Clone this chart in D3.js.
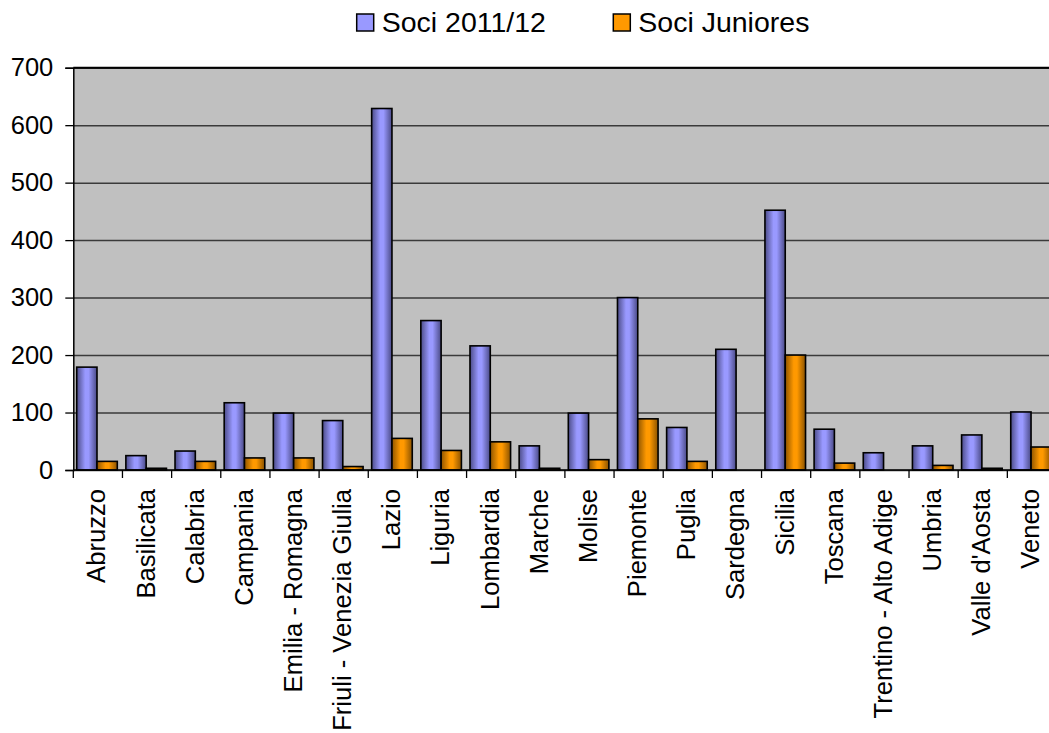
<!DOCTYPE html>
<html>
<head>
<meta charset="utf-8">
<script src="https://cdn.jsdelivr.net/npm/d3@7"></script>
<style>
  body { margin: 0; background: #fff; }
  svg { display: block; font-family: "Liberation Sans", Arial, sans-serif; }
</style>
</head>
<body>
<svg id="chart" width="1049" height="733"></svg>
<script>
// data
var regions = ["Abruzzo", "Basilicata", "Calabria", "Campania", "Emilia - Romagna",
  "Friuli - Venezia Giulia", "Lazio", "Liguria", "Lombardia", "Marche", "Molise",
  "Piemonte", "Puglia", "Sardegna", "Sicilia", "Toscana", "Trentino - Alto Adige",
  "Umbria", "Valle d'Aosta", "Veneto"];
var soci = [179, 25, 33, 117, 99, 86, 629, 260, 216, 42, 99, 300, 74, 210, 452, 71, 30, 42, 61, 101];
var juniores = [15, 3, 15, 21, 21, 6, 55, 34, 49, 3, 18, 89, 15, 0, 200, 12, 0, 8, 3, 40];
var seriesNames = ["Soci 2011/12", "Soci Juniores"];
var yTicks = [0, 100, 200, 300, 400, 500, 600, 700];

var svg = d3.select("#chart");
var margin = { top: 67.7, left: 73.3 };
var bandW = 49.16;
var width = bandW * regions.length;
var height = 470 - margin.top;

var defs = svg.append("defs");
function grad(id, edge1, mid, edge2) {
  var g = defs.append("linearGradient").attr("id", id)
    .attr("x1", "0%").attr("x2", "100%").attr("y1", "0%").attr("y2", "0%");
  g.append("stop").attr("offset", "0%").attr("stop-color", edge1);
  g.append("stop").attr("offset", "42%").attr("stop-color", mid);
  g.append("stop").attr("offset", "58%").attr("stop-color", mid);
  g.append("stop").attr("offset", "100%").attr("stop-color", edge2);
}
grad("gBlue", "#4c4c88", "#9999ff", "#4a4a86");
grad("gOrange", "#8f5500", "#ff9900", "#8a5200");
var fills = ["url(#gBlue)", "url(#gOrange)"];
var legendFills = ["#9999ff", "#ff9900"];

var g = svg.append("g")
  .attr("transform", "translate(" + margin.left + "," + margin.top + ")");

var x = d3.scaleBand().domain(regions).range([0, width]).padding(0);
var x1 = d3.scaleBand().domain(seriesNames).range([3.4, 44]).padding(0);
var y = d3.scaleLinear().domain([0, 700]).range([height, 0]);

// plot background
g.append("rect")
  .attr("width", width).attr("height", height)
  .attr("fill", "#c0c0c0");

// gridlines
g.append("g")
  .attr("class", "grid")
  .call(d3.axisLeft(y).tickValues(yTicks).tickSize(-width).tickFormat(""))
  .call(function(s) {
    s.select(".domain").remove();
    s.selectAll("line").attr("stroke", "#3a3a3a").attr("stroke-width", 1.5);
  });

// top border
g.append("line")
  .attr("x1", 0).attr("x2", width).attr("y1", 0).attr("y2", 0)
  .attr("stroke", "#000").attr("stroke-width", 2);

// bars
var groups = g.selectAll(".grp")
  .data(regions)
  .enter().append("g")
  .attr("class", "grp")
  .attr("transform", function(d) { return "translate(" + x(d) + ",0)"; });

groups.selectAll("rect")
  .data(function(d, i) { return [soci[i], juniores[i]]; })
  .enter().append("rect")
  .attr("x", function(d, j) { return x1(seriesNames[j]); })
  .attr("width", x1.bandwidth())
  .attr("y", function(d) { return y(d); })
  .attr("height", function(d) { return height - y(d); })
  .attr("fill", function(d, j) { return fills[j]; })
  .attr("stroke", "#000")
  .attr("stroke-width", 1.6);

// y axis
g.append("g")
  .call(d3.axisLeft(y).tickValues(yTicks).tickSize(8).tickPadding(12))
  .call(function(s) {
    s.select(".domain").attr("stroke", "#000").attr("stroke-width", 1.5);
    s.selectAll("line").attr("stroke", "#000").attr("stroke-width", 1.3);
    s.selectAll("text").attr("font-size", "25.5px").attr("fill", "#000")
      .attr("font-family", "Liberation Sans, Arial, sans-serif");
  });

// x axis baseline and boundary ticks
g.append("line")
  .attr("x1", 0).attr("x2", width).attr("y1", height).attr("y2", height)
  .attr("stroke", "#000").attr("stroke-width", 1.5);
var bounds = regions.map(function(d) { return x(d); }).concat([width]);
g.selectAll(".xtick")
  .data(bounds)
  .enter().append("line")
  .attr("class", "xtick")
  .attr("x1", function(d) { return d; }).attr("x2", function(d) { return d; })
  .attr("y1", height).attr("y2", height + 8)
  .attr("stroke", "#000").attr("stroke-width", 1.3);

// x labels
g.append("g")
  .attr("transform", "translate(0," + height + ")")
  .call(d3.axisBottom(x).tickSize(0).tickFormat(function(d) { return d; }))
  .call(function(s) {
    s.select(".domain").remove();
    s.selectAll("text")
      .attr("font-size", "25.6px")
      .attr("fill", "#000")
      .attr("font-family", "Liberation Sans, Arial, sans-serif")
      .attr("text-anchor", "end")
      .attr("dy", "0.35em")
      .attr("transform", "translate(-1.5,19) rotate(-90)")
      .attr("x", 0).attr("y", 0);
  });

// legend
var legend = svg.append("g").attr("class", "legend");
var legendX = [356.7, 613.3];
seriesNames.forEach(function(name, i) {
  legend.append("rect")
    .attr("x", legendX[i]).attr("y", 14)
    .attr("width", 17).attr("height", 17)
    .attr("fill", legendFills[i])
    .attr("stroke", "#000").attr("stroke-width", 1.5);
  legend.append("text")
    .attr("x", legendX[i] + 25).attr("y", 32)
    .attr("font-size", "28.5px")
    .attr("fill", "#000")
    .text(name);
});
</script>
</body>
</html>
